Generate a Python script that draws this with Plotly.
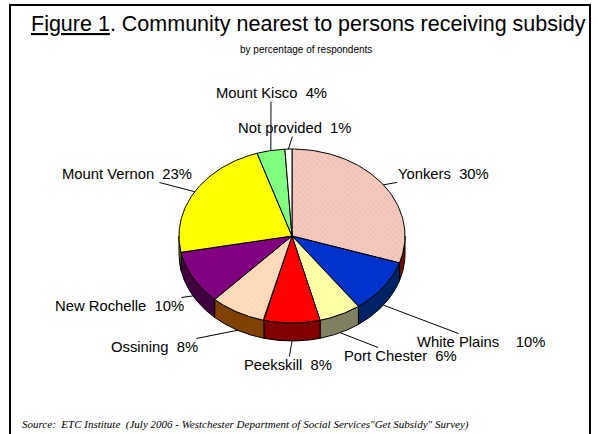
import numpy as np
import plotly.graph_objects as go

# Survey shares, clockwise from 12 o'clock
communities = ["Yonkers", "White Plains", "Port Chester", "Peekskill", "Ossining",
               "New Rochelle", "Mount Vernon", "Mount Kisco", "Not provided"]
percent = [30, 10, 6, 8, 8, 10, 23, 4, 1]

# Styling
top_colors = ["#F4CABF", "#0033CC", "#FFFFA6", "#FF0000", "#FFDCBC",
              "#800080", "#FFFF00", "#80FF80", "#FFFFFF"]
side_colors = ["#6B1000", "#002266", "#808060", "#800000", "#804000",
               "#400040", "#808000", "#408040", "#808080"]
label_gap = ["\u00a0\u00a0", "\u00a0\u00a0\u00a0\u00a0", "\u00a0\u00a0", "\u00a0\u00a0", "\u00a0\u00a0",
             "\u00a0\u00a0", "\u00a0\u00a0", "\u00a0\u00a0", "\u00a0\u00a0"]
label_xy = [(443, 174), (481, 342), (400, 356), (288, 365), (154, 347),
            (119, 306), (127, 174), (271, 93), (295, 128)]

W, H = 598, 434
CX, CY, RX, RY, DEPTH = 292, 236, 113, 87, 18


def rim(t_deg, drop=0.0):
    t = np.radians(t_deg)
    return CX + RX * np.sin(t), CY - RY * np.cos(t) + drop


fig = go.Figure()

total = float(sum(percent))
bounds = np.concatenate([[0.0], np.cumsum(percent) / total * 360.0])

# side walls (front half of the disc only)
for i, col in enumerate(side_colors):
    a, b = max(bounds[i], 90.0), min(bounds[i + 1], 270.0)
    if b <= a:
        continue
    ts = np.linspace(a, b, 60)
    xt, yt = rim(ts)
    xb, yb = rim(ts[::-1], DEPTH)
    fig.add_trace(go.Scatter(
        x=np.concatenate([xt, xb, xt[:1]]), y=np.concatenate([yt, yb, yt[:1]]),
        fill="toself", fillcolor=col, mode="lines",
        line=dict(color="black", width=1), hoverinfo="skip", showlegend=False))

# top faces
for i, (name, pct) in enumerate(zip(communities, percent)):
    ts = np.linspace(bounds[i], bounds[i + 1], 80)
    xs, ys = rim(ts)
    kw = {}
    if name in ("Yonkers", "Ossining"):
        fg = "#E7A597" if name == "Yonkers" else "#F7C49C"
        kw["fillpattern"] = dict(shape="x", size=4, solidity=0.25,
                                 fgcolor=fg, bgcolor=top_colors[i])
    fig.add_trace(go.Scatter(
        x=np.concatenate([[CX], xs, [CX]]), y=np.concatenate([[CY], ys, [CY]]),
        fill="toself", fillcolor=top_colors[i], mode="lines",
        line=dict(color="black", width=1), name=name,
        hovertemplate=f"{name}: {pct}%<extra></extra>", showlegend=False, **kw))

# labels with leader lines
annotations = []
for i, (name, pct) in enumerate(zip(communities, percent)):
    mid = (bounds[i] + bounds[i + 1]) / 2.0
    drop = DEPTH if 90.0 < mid < 270.0 else 0.0
    tx, ty = rim(mid, drop)
    lx, ly = label_xy[i]
    annotations.append(dict(
        x=float(tx), y=float(ty), ax=lx, ay=ly, xref="x", yref="y", axref="x", ayref="y",
        text=f"{name}{label_gap[i]}{pct}%", showarrow=True, arrowhead=0,
        arrowwidth=1, arrowcolor="black", standoff=0, borderpad=0,
        font=dict(family="Liberation Sans, Arial", size=14.8, color="black")))

annotations += [
    dict(x=308, y=24, xref="x", yref="y", showarrow=False,
         text="<span style='text-decoration:underline'>Figure 1</span>. Community nearest to persons receiving subsidy",
         font=dict(family="Liberation Sans, Arial", size=21.5, color="black")),
    dict(x=306, y=49, xref="x", yref="y", showarrow=False,
         text="by percentage of respondents",
         font=dict(family="Liberation Sans, Arial", size=10, color="black")),
    dict(x=20, y=424, xref="x", yref="y", showarrow=False, xanchor="left",
         text="<i>Source:\u00a0\u00a0ETC Institute\u00a0\u00a0(July 2006 - Westchester Department of Social Services\"Get Subsidy\" Survey)</i>",
         font=dict(family="Liberation Serif, Times New Roman", size=11, color="black")),
]

fig.update_layout(
    width=W, height=H, margin=dict(l=0, r=0, t=0, b=0),
    paper_bgcolor="white", plot_bgcolor="white",
    xaxis=dict(range=[0, W], visible=False, fixedrange=True),
    yaxis=dict(range=[H, 0], visible=False, fixedrange=True),
    annotations=annotations,
    shapes=[dict(type="rect", xref="x", yref="y", x0=10, y0=5, x1=590, y1=440,
                 line=dict(color="black", width=2))],
)

fig.write_html("out.html")
